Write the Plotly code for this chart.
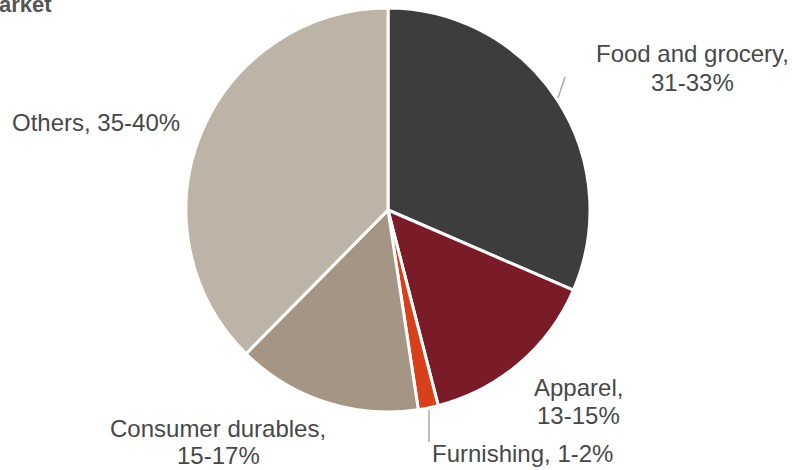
import plotly.graph_objects as go

categories = ["Food and grocery", "Apparel", "Furnishing", "Consumer durables", "Others"]
shares = [31.5, 14.5, 1.6, 14.8, 37.6]
range_labels = ["31-33%", "13-15%", "1-2%", "15-17%", "35-40%"]
colors = ["#3d3d3d", "#7a1c28", "#d8401c", "#a59584", "#bdb4a7"]

W, H = 792, 470
cx, cy, r = 388, 210, 202

fig = go.Figure(go.Pie(
    labels=categories,
    values=shares,
    sort=False,
    direction="clockwise",
    rotation=0,
    marker=dict(colors=colors, line=dict(color="white", width=3)),
    textinfo="none",
    hoverinfo="label+value",
    showlegend=False,
    domain=dict(x=[(cx - r) / W, (cx + r) / W], y=[(H - cy - r) / H, (H - cy + r) / H]),
))

font = dict(family="Liberation Sans, Arial, sans-serif", size=24, color="#484848")

def px(x, y):
    return x / W, 1 - y / H

# (center x, line-1 center y, line-2 center y or None)
label_pos = [
    (692, 53, 82),
    (578, 387, 415),
    (522, 453, None),
    (218, 428, 455),
    (96, 122, None),
]
anns = []
for i, (x, y1, y2) in enumerate(label_pos):
    if y2 is None:
        lines = [(f"{categories[i]}, {range_labels[i]}", y1)]
    else:
        lines = [(f"{categories[i]},", y1), (range_labels[i], y2)]
    for txt, y in lines:
        X, Y = px(x, y)
        anns.append(dict(x=X, y=Y, xref="paper", yref="paper", text=txt, showarrow=False,
                         font=font, align="center", xanchor="center", yanchor="middle"))

X, Y = px(-3, 5)
anns.append(dict(x=X, y=Y, xref="paper", yref="paper", text="<b>arket</b>", showarrow=False,
                 font=dict(family="Liberation Sans, Arial, sans-serif", size=22, color="#555555"),
                 xanchor="left", yanchor="middle"))

shapes = []
for (x0, y0, x1, y1) in [(558, 98, 565, 77), (429, 410, 429, 442)]:
    a0, b0 = px(x0, y0)
    a1, b1 = px(x1, y1)
    shapes.append(dict(type="line", xref="paper", yref="paper", x0=a0, y0=b0, x1=a1, y1=b1,
                       line=dict(color="#aaaaaa", width=1.5)))

fig.update_layout(
    width=W, height=H,
    margin=dict(l=0, r=0, t=0, b=0),
    paper_bgcolor="white", plot_bgcolor="white",
    annotations=anns, shapes=shapes,
)

fig.write_html("out.html", config={"displayModeBar": False},
               post_script="document.body.style.margin='0';document.body.style.overflow='hidden';")
